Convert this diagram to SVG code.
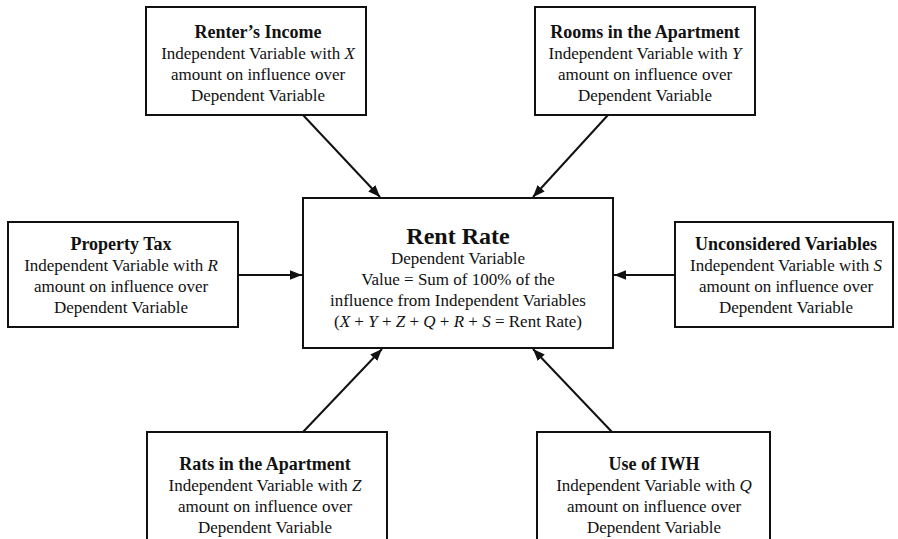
<svg xmlns="http://www.w3.org/2000/svg" width="898" height="539" viewBox="0 0 898 539">
<defs>
<style>
.box{fill:#fff;stroke:#111;stroke-width:2}
text{font-family:"Liberation Serif","Times New Roman",serif;fill:#111;text-anchor:middle}
.t{font-size:18px;font-weight:bold}
.b{font-size:17px}
.big{font-size:24px;font-weight:bold}
.edge{stroke:#111;stroke-width:2;fill:none;marker-end:url(#ah)}
</style>
<marker id="ah" viewBox="0 0 10 10" refX="10" refY="5" markerWidth="6" markerHeight="6" orient="auto" markerUnits="strokeWidth">
<path d="M0,1 L10,5 L0,9 Z" fill="#111"/>
</marker>
</defs>
<rect width="898" height="539" fill="#fff"/>
<g id="connectors">
<line class="edge" x1="303" y1="115" x2="380" y2="197"/>
<line class="edge" x1="608" y1="115" x2="533" y2="197"/>
<line class="edge" x1="238" y1="275" x2="302" y2="275"/>
<line class="edge" x1="675" y1="275" x2="614" y2="275"/>
<line class="edge" x1="303" y1="432" x2="382" y2="349"/>
<line class="edge" x1="612" y1="432" x2="533" y2="349"/>
</g>
<g id="rent-rate">
<rect class="box" x="303" y="198" width="310" height="150"/>
<text class="big" x="458" y="244">Rent Rate</text>
<text class="b" x="458" y="264">Dependent Variable</text>
<text class="b" x="458" y="285">Value = Sum of 100% of the</text>
<text class="b" x="458" y="306">influence from Independent Variables</text>
<text class="b" x="458" y="327">(<tspan font-style="italic">X</tspan> + <tspan font-style="italic">Y</tspan> + <tspan font-style="italic">Z</tspan> + <tspan font-style="italic">Q</tspan> + <tspan font-style="italic">R</tspan> + <tspan font-style="italic">S</tspan> = Rent Rate)</text>
</g>
<g id="renters-income">
<rect class="box" x="146" y="7" width="220" height="108"/>
<text class="t" x="258" y="38">Renter’s Income</text>
<text class="b" x="258" y="59">Independent Variable with <tspan font-style="italic">X</tspan></text>
<text class="b" x="258" y="80">amount on influence over</text>
<text class="b" x="258" y="101">Dependent Variable</text>
</g>
<g id="rooms">
<rect class="box" x="535" y="7" width="220" height="108"/>
<text class="t" x="645" y="38">Rooms in the Apartment</text>
<text class="b" x="645" y="59">Independent Variable with <tspan font-style="italic">Y</tspan></text>
<text class="b" x="645" y="80">amount on influence over</text>
<text class="b" x="645" y="101">Dependent Variable</text>
</g>
<g id="property-tax">
<rect class="box" x="8" y="222" width="230" height="105"/>
<text class="t" x="121" y="250">Property Tax</text>
<text class="b" x="121" y="271">Independent Variable with <tspan font-style="italic">R</tspan></text>
<text class="b" x="121" y="292">amount on influence over</text>
<text class="b" x="121" y="313">Dependent Variable</text>
</g>
<g id="unconsidered">
<rect class="box" x="675" y="222" width="218" height="105"/>
<text class="t" x="786" y="250">Unconsidered Variables</text>
<text class="b" x="786" y="271">Independent Variable with <tspan font-style="italic">S</tspan></text>
<text class="b" x="786" y="292">amount on influence over</text>
<text class="b" x="786" y="313">Dependent Variable</text>
</g>
<g id="rats">
<rect class="box" x="147" y="432" width="240" height="115"/>
<text class="t" x="265" y="470">Rats in the Apartment</text>
<text class="b" x="265" y="491">Independent Variable with <tspan font-style="italic">Z</tspan></text>
<text class="b" x="265" y="512">amount on influence over</text>
<text class="b" x="265" y="533">Dependent Variable</text>
</g>
<g id="iwh">
<rect class="box" x="537" y="432" width="233" height="115"/>
<text class="t" x="654" y="470">Use of IWH</text>
<text class="b" x="654" y="491">Independent Variable with <tspan font-style="italic">Q</tspan></text>
<text class="b" x="654" y="512">amount on influence over</text>
<text class="b" x="654" y="533">Dependent Variable</text>
</g>
</svg>
